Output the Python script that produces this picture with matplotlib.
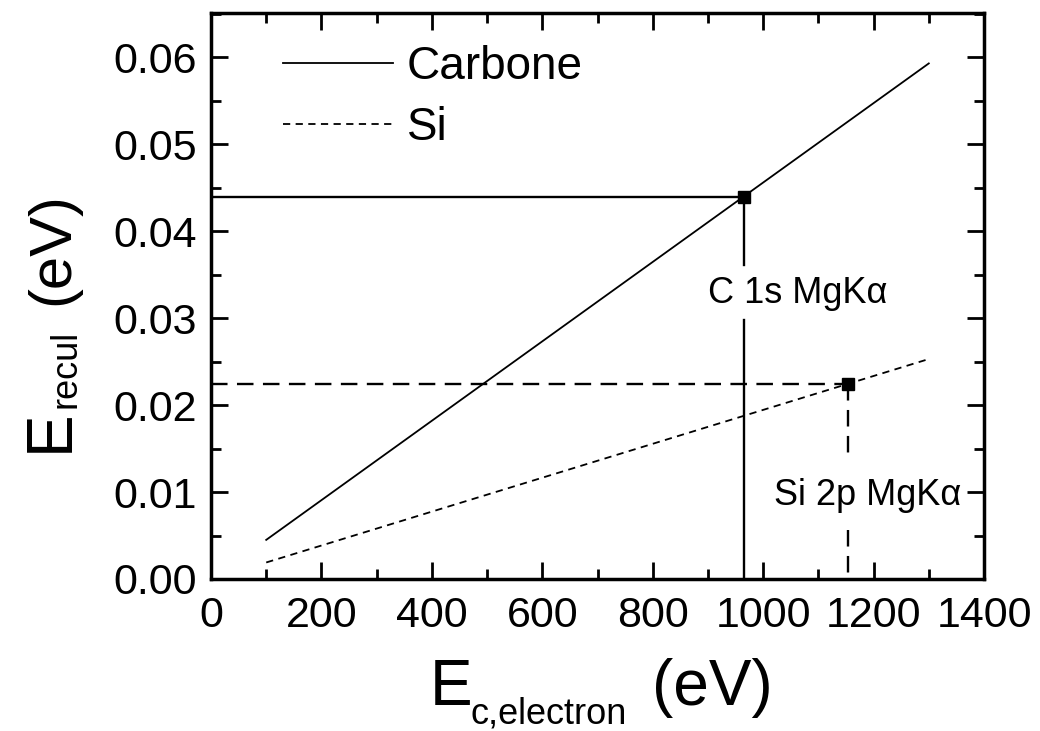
import numpy as np
import matplotlib.pyplot as plt
from matplotlib.ticker import MultipleLocator

plt.rcParams['font.family'] = ['Liberation Sans', 'DejaVu Sans']

# recoil energy vs photoelectron kinetic energy
e_kin = [100, 1300]
carbone = [0.0045, 0.0593]
si = [0.0019, 0.0253]

# XPS lines (MgKa)
peak_x = [965, 1154]
peak_y = [0.0439, 0.0224]
peak_labels = ['C 1s MgKα', 'Si 2p MgKα']
label_x = [1063, 1190]
label_y = [0.0328, 0.0096]
# vertical drop lines broken around the labels
gap_top = [0.0361, 0.0139]
gap_bot = [0.0298, 0.0056]

W, H = 1040, 731
fig = plt.figure(figsize=(W / 100, H / 100), dpi=100)
ax = fig.add_axes([211 / W, 1 - 579 / H, (984 - 211) / W, (579 - 13) / H])

ax.plot(e_kin, carbone, 'k-', lw=1.3, label='Carbone')
ax.plot(e_kin, si, 'k--', lw=1.3, dashes=(4, 3), label='Si')

styles = [dict(ls='-'), dict(ls='--', dashes=(7, 4))]
for i in range(2):
    st = styles[i]
    ax.plot([0, peak_x[i]], [peak_y[i], peak_y[i]], color='k', lw=1.7, **st)
    ax.plot([peak_x[i], peak_x[i]], [peak_y[i], gap_top[i]], color='k', lw=1.7, **st)
    ax.plot([peak_x[i], peak_x[i]], [gap_bot[i], 0], color='k', lw=1.7, **st)
    ax.plot(peak_x[i], peak_y[i], 's', color='k', ms=8)
    ax.text(label_x[i], label_y[i], peak_labels[i], fontsize=26,
            ha='center', va='center')

ax.set_xlim(0, 1400)
ax.set_ylim(0, 0.0651)
ax.xaxis.set_major_locator(MultipleLocator(200))
ax.xaxis.set_minor_locator(MultipleLocator(100))
ax.yaxis.set_major_locator(MultipleLocator(0.01))
ax.yaxis.set_minor_locator(MultipleLocator(0.005))
ax.yaxis.set_major_formatter(plt.FormatStrFormatter('%.2f'))

ax.tick_params(which='both', direction='in', top=True, right=True, width=2)
ax.tick_params(which='major', length=12, labelsize=31)
ax.tick_params(axis='x', which='major', pad=12)
ax.tick_params(axis='y', which='major', pad=10)
ax.tick_params(which='minor', length=7)
for s in ax.spines.values():
    s.set_linewidth(2.5)

# axis titles built from pieces so the subscript sits like in the original
def ftext(px, py, s, size, rot=0):
    fig.text(px / W, 1 - py / H, s, fontsize=size, rotation=rot,
             rotation_mode='anchor', ha='left', va='baseline')

ftext(430, 705, 'E', 46)
ftext(471, 723, 'c,electron', 26)
ftext(652, 705, '(eV)', 46)

ftext(68, 452, 'E', 46, 90)
ftext(75, 408, 'recul', 26, 90)
ftext(68, 305, '(eV)', 43, 90)

leg = ax.legend(loc='upper left', frameon=False, fontsize=33, handlelength=2.4,
                handletextpad=0.3, labelspacing=0.38, borderpad=0, borderaxespad=0,
                bbox_to_anchor=(283 / W, 1 - 45 / H), bbox_transform=fig.transFigure)

fig.savefig('out.png', dpi=100)
